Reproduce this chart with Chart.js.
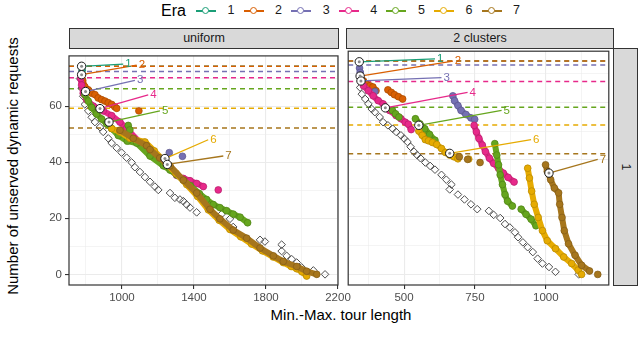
<!DOCTYPE html>
<html>
<head>
<meta charset="utf-8">
<script src="https://cdn.jsdelivr.net/npm/chart.js@4/dist/chart.umd.min.js"></script>
<style>
body{margin:0;width:640px;height:350px;position:relative;background:#fff;overflow:hidden;font-family:"Liberation Sans",Arial,sans-serif}
.pos{position:absolute}
.strip{position:absolute;top:28px;height:19px;background:#d9d9d9;border:1px solid #333;box-sizing:content-box;font-size:12.5px;color:#1a1a1a;text-align:center;line-height:19px}
#rstrip{position:absolute;left:613px;top:48px;width:23px;height:236px;background:#d9d9d9;border:1px solid #333}
#rstrip span{position:absolute;left:50%;top:50%;font-size:12.5px;color:#1a1a1a;transform:translate(-50%,-50%) rotate(90deg)}
#ytitle{position:absolute;left:12px;top:166px;font-size:15px;white-space:nowrap;transform:translate(-50%,-50%) rotate(-90deg)}
#xtitle{position:absolute;left:341px;top:314px;font-size:15px;white-space:nowrap;transform:translate(-50%,-50%)}
.ltitle{position:absolute;left:161px;top:2px;font-size:16px}
.key{position:absolute;top:4px;width:20px;height:14px}
.key i{position:absolute;left:0;right:0;top:6px;height:1.6px}
.key b{position:absolute;left:6px;top:3px;width:5px;height:5px;border-radius:50%;border:1.6px solid;background:#fff}
.klab{position:absolute;top:3px;font-size:12.5px;color:#1a1a1a;transform:translateX(-50%)}
</style>
</head>
<body>
<div id="legend"></div>
<div class="strip" style="left:69px;width:268px">uniform</div>
<div class="strip" style="left:346px;width:266px">2 clusters</div>
<div id="rstrip"><span>1</span></div>
<div id="ytitle">Number of unserved dynamic requests</div>
<div id="xtitle">Min.-Max. tour length</div>
<div class="pos" style="left:0;top:46px"><canvas id="uni" width="364" height="268"></canvas></div>
<div class="pos" style="left:343px;top:46px"><canvas id="clu" width="271" height="268"></canvas></div>
<script>
const eraNames = ['1', '2', '3', '4', '5', '6', '7'];
const eraColors = ['#1B9E77', '#D95F02', '#7570B3', '#E7298A', '#66A61E', '#E6AB02', '#A6761D'];
const eraEdges = ['#157a5c', '#a84a02', '#5b578c', '#b5206c', '#4f8117', '#b58602', '#825c17'];

const yTicks = [0, 10, 20, 30, 40, 50, 60, 70];
const yMajor = [0, 20, 40, 60];
const uniXTicks = [800, 1000, 1200, 1400, 1600, 1800, 2000, 2200];
const uniXMajor = [1000, 1400, 1800, 2200];
const cluXTicks = [375, 500, 625, 750, 875, 1000, 1125];
const cluXMajor = [500, 750, 1000];

// ---- uniform panel ----
const uniDashY = [74.2, 74.2, 72.3, 70.1, 66.2, 59.2, 52.2];
const uniStarts = [[776, 74.2], [776, 71.2], [798, 65.2], [878, 59.1], [928, 54.3], [1239, 41.3], [1252, 39.2]];
const uniLabelEnds = [[1007, 75], [1082, 74.6], [1072, 69.2], [1146, 64], [1211, 58.3], [1479, 48], [1563, 42.2]];
const uniBaseline = [[767, 69.8], [776, 66.4], [785, 63.5], [794, 60.6], [813, 58.3], [832, 56], [850, 54.3], [878, 52.5],
  [896, 50.8], [924, 48.5], [943, 46.8], [971, 45.1], [998, 43.4], [1026, 41.6], [1054, 39.9], [1072, 38.2], [1100, 36.5],
  [1128, 34.7], [1156, 33], [1183, 31.3], [1202, 30.1], [1267, 29], [1294, 27.3], [1322, 26.7], [1341, 26.1], [1359, 24.9],
  [1378, 23.8], [1415, 22.1], [1554, 21.5], [1600, 19.8], [1618, 16.9], [1767, 12.3], [1794, 11.7], [1887, 10.6],
  [1887, 8.3], [1915, 6.6], [1943, 5.4], [1971, 4.2], [1998, 2.5], [2063, 1.4], [2128, 0]];
const uniEra1 = [[[776, 74.2], [779, 72.8]]];
const uniEra2 = [
  [[776, 71.2], [782, 69.2], [794, 66.9], [813, 65.8], [832, 64.6], [850, 64.1], [868, 62.9], [887, 62.3], [906, 61.8],
   [924, 61.2], [943, 60.6], [961, 59.7], [971, 59.2]],
  [[1094, 58.3]]
];
const uniEra3 = [[[798, 65.2]], [[1263, 43.4]], [[1336, 42.1]]];
const uniEra4 = [
  [[771, 69.8], [776, 67.5], [785, 64.6], [804, 62.3], [841, 60], [896, 58.3], [943, 56.6], [989, 54.3], [1026, 52],
   [1100, 47], [1170, 43], [1240, 39], [1304, 35.3], [1341, 34.2], [1378, 33.4], [1415, 32.4], [1452, 31.3]],
  [[1535, 30.1]]
];
const uniEra5 = [
  [[794, 64.1], [813, 61.8], [832, 59.5], [859, 57.2], [887, 55.4], [915, 53.7], [943, 52], [980, 49.5], [1030, 47.5],
   [1082, 46.8], [1156, 42.2], [1230, 38.7], [1267, 37.2], [1304, 35.5], [1341, 33.6], [1380, 31.6], [1430, 28.8],
   [1470, 26.7], [1507, 24.9], [1544, 23.8], [1581, 22.7], [1618, 21.5], [1656, 20.4], [1698, 18.4]],
  [[1035, 53.1], [1044, 51.5]]
];
const uniEra6 = [
  [[943, 52], [989, 50.8], [1044, 48.5], [1128, 47.2], [1180, 44], [1240, 40], [1300, 36], [1360, 32], [1420, 27.8],
   [1480, 23], [1540, 19.3], [1600, 16], [1660, 13.4], [1720, 10.8], [1780, 8.4], [1840, 6.2], [1896, 4.2], [1940, 2.8],
   [1971, 2], [2000, 0.9], [2026, -0.6]]
];
const uniEra7 = [
  [[989, 51.4], [1063, 48.5], [1137, 45.9], [1156, 44.5], [1210, 41.5], [1267, 38.7], [1341, 33.6], [1415, 29],
   [1489, 23.2], [1544, 19.8], [1618, 15.8], [1693, 12.9], [1767, 9.4], [1841, 6.6], [1896, 4.6], [1971, 2.8],
   [2026, 1.1], [2082, 0]]
];

// ---- 2 clusters panel ----
const cluDashY = [74.5, 74.5, 73.1, 67.3, 58.3, 52.1, 42.1];
const cluStarts = [[342, 74.2], [345, 69.2], [348, 67.5], [434, 58.1], [552, 52], [661, 42.2], [1011, 35.3]];
const cluLabelEnds = [[609, 75.2], [672, 74.4], [632, 68.7], [724, 63.5], [844, 57.2], [948, 47], [1183, 40.1]];
const cluBaseline = [[345, 65.2], [351, 62.9], [363, 61.2], [374, 59.5], [386, 57.7], [397, 56.6], [414, 54.9],
  [426, 53.1], [443, 52], [460, 50.8], [472, 49.7], [489, 48.5], [500, 47.4], [512, 46.2], [523, 44.5], [535, 42.8],
  [546, 41.6], [558, 40.5], [575, 39], [592, 37.8], [609, 36.5], [632, 34.7], [649, 33], [667, 31.3], [661, 29.6],
  [690, 27.8], [713, 26.1], [736, 24.4], [758, 22.7], [799, 22.1], [816, 20.7], [839, 19.6], [856, 17.5], [873, 16.3],
  [891, 14.6], [902, 12.9], [919, 11.1], [936, 9.4], [954, 7.7], [971, 5.4], [988, 3.7], [1011, 2.5], [1034, 0.8],
  [1116, -0.1]];
const cluEra1 = [[[342, 74.2]]];
const cluEra2 = [
  [[345, 69.2], [357, 67.5], [368, 66.3], [380, 65.8], [390, 65.4], [401, 64.1]],
  [[443, 64.4], [455, 63.5], [466, 62.7], [480, 62], [495, 61.2]]
];
const cluEra3 = [
  [[343, 72], [345, 70.5], [348, 67.5]],
  [[397, 63.8]],
  [[672, 62.3], [678, 60.6], [690, 58.9], [701, 57.2], [718, 55.8], [736, 54.6], [749, 54.1]]
];
const cluEra4 = [
  [[348, 67.5], [357, 65.8], [374, 64.1], [391, 62.3], [409, 60.6], [426, 59.5], [449, 57.2], [472, 55.4], [489, 54.3],
   [504, 53.1], [515, 52.4], [525, 50.5]],
  [[747, 52], [755, 49.7], [764, 47.4], [776, 45.1], [787, 42.8], [801, 40.5], [816, 38.7], [833, 37], [850, 35.3],
   [867, 33.8], [888, 32.2]]
];
const cluEra5 = [
  [[459, 57.2], [470, 56], [482, 54.9]],
  [[540, 54.3], [556, 52.5], [573, 50.8], [590, 48.8], [609, 46.8]],
  [[820, 45.6], [827, 41.6], [833, 38.2], [839, 34.7], [847, 31.3], [856, 27.8], [865, 25.5], [882, 23.8]],
  [[913, 22.7], [930, 20.9], [948, 19.2], [965, 16.9]]
];
const cluEra6 = [
  [[552, 50], [564, 48.5], [575, 47], [586, 46.6], [600, 46], [615, 45.3], [632, 43.9], [646, 42.5], [661, 41.6],
   [676, 41], [690, 40.3]],
  [[728, 40.2]],
  [[936, 37], [942, 33.6], [950, 29], [959, 24.4], [973, 19.8], [988, 15.2], [1005, 11.7], [1034, 8.9], [1063, 6],
   [1091, 3.7], [1114, 1.4], [1126, -0.1]]
];
const cluEra7 = [
  [[695, 41]], [[724, 40.1]], [[768, 39]],
  [[999, 38.2], [1005, 35.9], [1017, 33], [1030, 30.1], [1045, 28.4], [1049, 24.4], [1057, 19.8], [1065, 15.2],
   [1080, 10.6], [1103, 6.6], [1126, 3.1], [1154, 1.1]],
  [[1183, -0.1]]
];

// legend (html)
const legend = document.getElementById('legend');
legend.innerHTML = '<span class="ltitle">Era</span>' + eraNames.map((n, i) =>
  '<span class="key" style="left:' + (196 + 47.6 * i) + 'px"><i style="background:' + eraColors[i] + '"></i>' +
  '<b style="border-color:' + eraColors[i] + '"></b></span>' +
  '<span class="klab" style="left:' + (231 + 47.6 * i) + 'px">' + n + '</span>').join('');

Chart.defaults.font.family = '"Liberation Sans", Arial, sans-serif';

function buildDatasets(p) {
  const ds = [];
  const push = d => { d.order = -ds.length; ds.push(d); };
  p.dashY.forEach((y, i) => push({
    data: [[p.xmin, y], [p.xmax, y]], showLine: true, borderColor: eraColors[i],
    borderWidth: 1.5, borderDash: [5, 4], pointRadius: 0
  }));
  push({
    data: p.baseline, pointStyle: 'rectRot', pointRadius: 3.8, borderColor: '#4d4d4d',
    borderWidth: 1, backgroundColor: 'rgba(255,255,255,0)'
  });
  p.eras.forEach((runs, i) => runs.forEach(run => push({
    data: run, showLine: run.length > 1, borderColor: eraColors[i], borderWidth: 6,
    borderCapStyle: 'round', borderJoinStyle: 'round', pointRadius: 3.4,
    pointBackgroundColor: eraColors[i], pointBorderColor: eraEdges[i], pointBorderWidth: 0.7
  })));
  p.starts.forEach((s, i) => push({
    data: [s, p.labelEnds[i]], showLine: true, borderColor: eraColors[i], borderWidth: 1.3, pointRadius: 0
  }));
  push({ data: p.starts, pointRadius: 4.2, pointBackgroundColor: '#fff', pointBorderColor: '#1a1a1a', pointBorderWidth: 1 });
  push({ data: p.starts, pointRadius: 1.5, pointBackgroundColor: '#8a8a8a', pointBorderWidth: 0 });
  return ds;
}

// era number labels + panel border
const panelDecor = {
  id: 'panelDecor',
  afterDatasetsDraw(chart, args, opts) {
    const c = chart.ctx, xs = chart.scales.x, ys = chart.scales.y;
    c.save();
    c.font = '11.5px "Liberation Sans", Arial, sans-serif';
    c.textBaseline = 'middle';
    opts.ends.forEach((e, i) => {
      c.fillStyle = eraColors[i];
      c.fillText(eraNames[i], xs.getPixelForValue(e[0]) + 2, ys.getPixelForValue(e[1]));
    });
    const a = chart.chartArea;
    c.strokeStyle = '#333';
    c.lineWidth = 1.2;
    c.strokeRect(a.left, a.top, a.right - a.left, a.bottom - a.top);
    c.restore();
  }
};

function gridOpts(major) {
  return {
    color: '#ebebeb',
    lineWidth: ctx => (ctx.tick && major.includes(ctx.tick.value)) ? 1.1 : 0.55,
    tickColor: ctx => (ctx.tick && major.includes(ctx.tick.value)) ? '#333' : 'rgba(0,0,0,0)',
    tickLength: 4
  };
}

function makePanel(id, p, showY) {
  new Chart(document.getElementById(id), {
    type: 'scatter',
    data: { datasets: buildDatasets(p) },
    options: {
      responsive: false, animation: false, events: [],
      layout: { padding: { top: 2, right: p.padRight, left: 0, bottom: 0 } },
      plugins: { legend: { display: false }, tooltip: { enabled: false }, panelDecor: { ends: p.labelEnds } },
      scales: {
        x: {
          type: 'linear', min: p.xmin, max: p.xmax,
          afterBuildTicks: s => { s.ticks = p.xTicks.map(v => ({ value: v })); },
          afterFit: s => { s.height = 29; },
          grid: gridOpts(p.xMajor), border: { display: false },
          ticks: {
            autoSkip: false, maxRotation: 0, padding: 2, color: '#4d4d4d', font: { size: 11.5 },
            callback: v => p.xMajor.includes(v) ? String(v) : ''
          }
        },
        y: {
          type: 'linear', min: -3.8, max: 77.9,
          afterBuildTicks: s => { s.ticks = yTicks.map(v => ({ value: v })); },
          afterFit: s => { s.width = showY ? 69 : 3; },
          grid: showY ? gridOpts(yMajor) : Object.assign(gridOpts(yMajor), { drawTicks: false }),
          border: { display: false },
          ticks: {
            display: showY, autoSkip: false, padding: 3, color: '#4d4d4d', font: { size: 11.5 },
            callback: v => yMajor.includes(v) ? String(v) : ''
          }
        }
      }
    },
    plugins: [panelDecor]
  });
}

makePanel('uni', {
  xmin: 706, xmax: 2200, padRight: 26, xTicks: uniXTicks, xMajor: uniXMajor,
  dashY: uniDashY, baseline: uniBaseline, starts: uniStarts, labelEnds: uniLabelEnds,
  eras: [uniEra1, uniEra2, uniEra3, uniEra4, uniEra5, uniEra6, uniEra7]
}, true);

makePanel('clu', {
  xmin: 303, xmax: 1222, padRight: 1, xTicks: cluXTicks, xMajor: cluXMajor,
  dashY: cluDashY, baseline: cluBaseline, starts: cluStarts, labelEnds: cluLabelEnds,
  eras: [cluEra1, cluEra2, cluEra3, cluEra4, cluEra5, cluEra6, cluEra7]
}, false);
</script>
</body>
</html>
